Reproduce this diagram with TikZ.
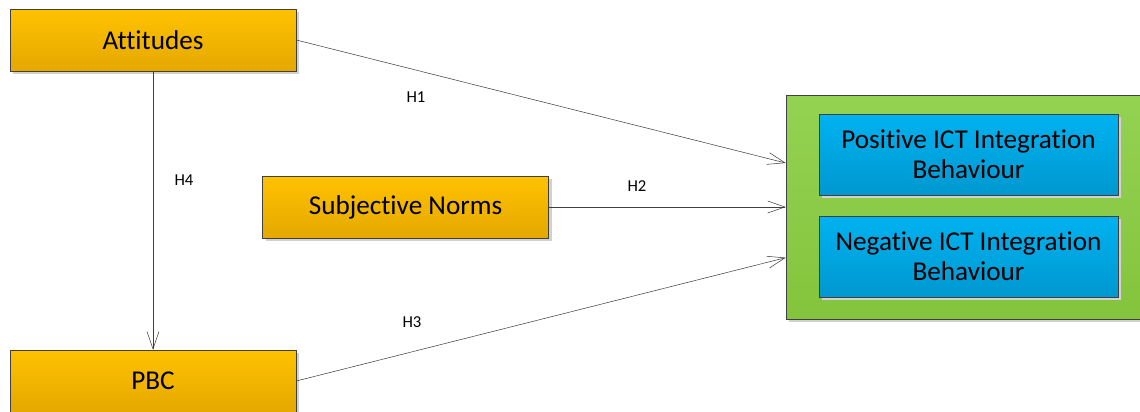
\documentclass[tikz,border=0pt]{standalone}
\usepackage{fontspec}
\setmainfont{Carlito}[Ligatures=NoCommon]
\usepackage{xcolor}
\usetikzlibrary{arrows.meta,shadows}
\definecolor{orangetop}{RGB}{255,194,0}
\definecolor{orangebot}{RGB}{228,168,0}
\definecolor{greentop}{RGB}{148,210,82}
\definecolor{greenbot}{RGB}{132,196,60}
\definecolor{bluetop}{RGB}{0,178,240}
\definecolor{bluebot}{RGB}{0,152,208}
\definecolor{linegray}{RGB}{64,64,64}

\begin{document}
\begin{tikzpicture}[x=0.75pt,y=-0.75pt,
  every node/.style={font=\fontsize{20.4}{22.5}\selectfont,align=center,inner sep=0pt},
  boxshadow/.style={drop shadow={shadow xshift=2.5pt,shadow yshift=-2.5pt,fill=black!18,opacity=1}},
  construct/.style={rectangle,draw=linegray,boxshadow,top color=orangetop,bottom color=orangebot,
    minimum width=214.5pt,minimum height=46.5pt},
  outcome/.style={rectangle,draw=linegray,boxshadow,top color=bluetop,bottom color=bluebot,
    minimum width=224.25pt,minimum height=60.75pt},
  hyp/.style={font=\fontsize{12.5}{15}\selectfont},
  link/.style={draw=linegray,-{Straight Barb[length=13pt,width=9pt]}}]
  \useasboundingbox (0,0) rectangle (1140,411);

  % predictors
  \node[construct] (att) at (153,40) {Attitudes};
  \node[construct] (sn) at (405.5,207) {Subjective Norms};
  \node[construct] (pbc) at (153,381) {PBC};

  % behaviour block
  \node[rectangle,draw=linegray,boxshadow,top color=greentop,bottom color=greenbot,
    minimum width=270pt,minimum height=168pt] (beh) at (966,207) {};
  \node[outcome] (pos) at (968.5,154.5) {Positive ICT Integration\\Behaviour};
  \node[outcome] (neg) at (968.5,256.5) {Negative ICT Integration\\Behaviour};

  % hypotheses
  \draw[link] (att.east) -- ([yshift=33pt]beh.west);
  \draw[link] (sn.east) -- (beh.west);
  \draw[link] (pbc.east) -- ([yshift=-38pt]beh.west);
  \draw[link] (att.south) -- (pbc.north);

  \node[hyp] (h1) at (416,97) {H1};
  \node[hyp] (h2) at (637,186) {H2};
  \node[hyp] (h3) at (412,322) {H3};
  \node[hyp] (h4) at (184,180) {H4};
\end{tikzpicture}
\end{document}
